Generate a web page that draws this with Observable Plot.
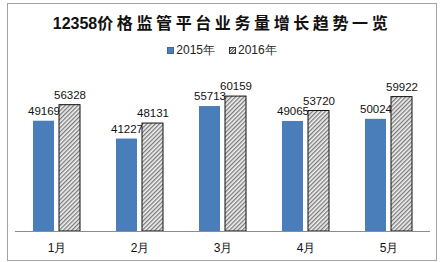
<!DOCTYPE html>
<html><head><meta charset="utf-8">
<script src="https://cdn.jsdelivr.net/npm/d3@7"></script>
<script src="https://cdn.jsdelivr.net/npm/@observablehq/plot@0.6"></script>
<style>
html,body{margin:0;padding:0;background:#fff;}
#frame{position:absolute;left:7px;top:3px;width:428px;height:256px;border:1px solid #a3a3a3;background:#fff;overflow:hidden;}
#title{height:36px;line-height:36px;text-align:center;font-family:"Noto Sans CJK SC",sans-serif;font-size:16px;font-weight:bold;color:#111;white-space:nowrap;}
#title .num{font-family:"Liberation Sans",Arial,sans-serif;font-weight:bold;letter-spacing:0;}
#title .cjk{letter-spacing:3.6px;}
#legend{height:20px;display:flex;justify-content:center;align-items:center;font-family:"Liberation Sans",Arial,sans-serif;font-size:12px;color:#222;gap:14px;}
#legend .item{display:flex;align-items:center;}
#legend .sw{width:6px;height:6px;margin-right:2px;display:inline-block;}
#chart svg{display:block;}
</style></head>
<body>
<div id="frame">
<div id="title"></div>
<div id="legend"></div>
<div id="chart"></div>
</div>
<script>
const titleNum = "12358";
const titleText = "价格监管平台业务量增长趋势一览";
const months = ["1月","2月","3月","4月","5月"];
const seriesNames = ["2015年","2016年"];
const values2015 = [49169, 41227, 55713, 49065, 50024];
const values2016 = [56328, 48131, 60159, 53720, 59922];

document.getElementById("title").innerHTML =
  `<span class="num">${titleNum}</span><span class="cjk">${titleText}</span>`;

const blue = "#4a7ebb";
const legend = document.getElementById("legend");
legend.innerHTML = `
<span class="item"><span class="sw" style="background:${blue};border:1px solid #3a6aa5;width:5px;height:5px"></span>${seriesNames[0]}</span>
<span class="item"><span class="sw" style="border:1px solid #333;width:5px;height:5px;background:repeating-linear-gradient(-45deg,#888 0 1px,#fff 1px 2px)"></span>${seriesNames[1]}</span>`;

const d15 = months.map((m,i)=>({month:m, series:seriesNames[0], value:values2015[i]}));
const d16 = months.map((m,i)=>({month:m, series:seriesNames[1], value:values2016[i]}));

const chart = Plot.plot({
  width: 428,
  height: 199,
  marginLeft: 7,
  marginRight: 6,
  marginTop: 14,
  marginBottom: 28,
  style: {fontFamily: "Liberation Sans, Arial, sans-serif", background: "transparent"},
  fx: {domain: months, padding: 0, label: null, axis: "bottom", tickSize: 0, tickPadding: 12},
  x: {domain: seriesNames, paddingInner: 0.185, paddingOuter: 0.63, axis: null},
  y: {domain: [0, 70000], axis: null},
  marks: [
    Plot.barY(d15, {fx: "month", x: "series", y: "value", fill: blue}),
    Plot.text(d15, {fx: "month", x: "series", y: "value", text: d => String(d.value), dy: -10, fontSize: 11.5, fill: "#111"}),
    Plot.barY(d16, {fx: "month", x: "series", y: "value", fill: "url(#hatch16)", stroke: "#111", strokeWidth: 1}),
    Plot.text(d16, {fx: "month", x: "series", y: "value", text: d => String(d.value), dy: -10, fontSize: 11.5, fill: "#111"}),
    Plot.ruleY([0], {stroke: "#8c8c8c", strokeWidth: 1})
  ]
});

const svg = d3.select(chart);
const defs = svg.insert("defs", ":first-child");
const pat = defs.append("pattern")
  .attr("id", "hatch16")
  .attr("patternUnits", "userSpaceOnUse")
  .attr("width", 3).attr("height", 3)
  .attr("patternTransform", "rotate(45)");
pat.append("rect").attr("width", 3).attr("height", 3).attr("fill", "#f2f2f2");
pat.append("rect").attr("width", 1.3).attr("height", 3).attr("fill", "#7a7a7a");
svg.selectAll("g[aria-label='fx-axis tick label']").attr("font-size", 12).attr("fill", "#111");
document.getElementById("chart").appendChild(chart);
</script>
</body></html>
